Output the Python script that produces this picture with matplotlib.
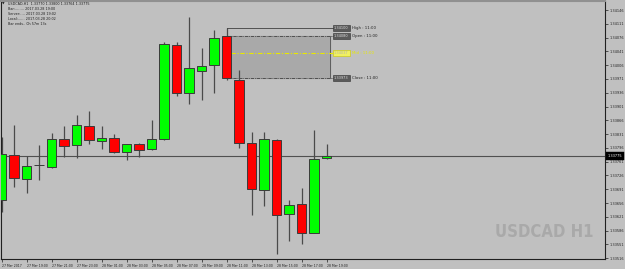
import numpy as np
import matplotlib
matplotlib.use('Agg')
import matplotlib.pyplot as plt
import matplotlib.transforms as mtransforms

# hourly bars, 27 Mar 17:00 .. 28 Mar 19:00
opens = [1.33663, 1.33778, 1.33717, 1.33752, 1.33747, 1.33818, 1.33803, 1.33851, 1.33813,
         1.33821, 1.33785, 1.33806, 1.33793, 1.33818, 1.34057, 1.33935, 1.33991, 1.34006,
         1.34080, 1.33968, 1.33808, 1.33689, 1.33816, 1.33628, 1.33653, 1.33580, 1.33770]
highs = [1.33823, 1.33854, 1.33775, 1.33803, 1.33834, 1.33851, 1.33879, 1.33890, 1.33851,
         1.33831, 1.33806, 1.33808, 1.33867, 1.34065, 1.34065, 1.34128, 1.34050, 1.34095,
         1.34100, 1.33994, 1.33836, 1.33836, 1.33818, 1.33663, 1.33694, 1.33841, 1.33806]
lows = [1.33633, 1.33696, 1.33681, 1.33714, 1.33745, 1.33773, 1.33770, 1.33806, 1.33793,
        1.33783, 1.33765, 1.33773, 1.33790, 1.33816, 1.33928, 1.33907, 1.33917, 1.33935,
        1.33968, 1.33796, 1.33625, 1.33648, 1.33526, 1.33559, 1.33552, 1.33580, 1.33768]
closes = [1.33780, 1.33719, 1.33750, 1.33753, 1.33818, 1.33801, 1.33854, 1.33816, 1.33821,
          1.33785, 1.33806, 1.33790, 1.33818, 1.34060, 1.33935, 1.33999, 1.34004, 1.34075,
          1.33973, 1.33808, 1.33691, 1.33818, 1.33625, 1.33651, 1.33580, 1.33768, 1.33775]

time_labels = ['27 Mar 2017', '27 Mar 19:00', '27 Mar 21:00', '27 Mar 23:00', '28 Mar 01:00',
               '28 Mar 03:00', '28 Mar 05:00', '28 Mar 07:00', '28 Mar 09:00', '28 Mar 11:00',
               '28 Mar 13:00', '28 Mar 15:00', '28 Mar 17:00', '28 Mar 19:00']
price_ticks = [1.34146, 1.34111, 1.34076, 1.34041, 1.34006, 1.33971, 1.33936, 1.33901,
               1.33866, 1.33831, 1.33796, 1.33761, 1.33726, 1.33691, 1.33656, 1.33621,
               1.33586, 1.33551, 1.33516]

current_price = 1.33775
zone_bar = 18  # the 11:00 bar
zone_levels = {'High': 1.34100, 'Open': 1.34080, 'Close': 1.33973}
zone_mid = (zone_levels['High'] + zone_levels['Close']) / 2

header = ['USDCAD,H1  1.33770 1.33800 1.33764 1.33775',
          'Bar:........ 2017.03.28 19:00',
          'Server:.... 2017.03.28 19:02',
          'Local:...... 2017.03.28 20:02',
          'Bar ends.. 0h 57m 13s']

BG = '#c0c0c0'
fig = plt.figure(figsize=(6.25, 2.69), dpi=100, facecolor=BG)
ax = fig.add_axes([1 / 625, 10 / 269, 604 / 625, 258 / 269], facecolor=BG)

o = np.array(opens); c = np.array(closes)
h = np.array(highs); l = np.array(lows)
x = np.arange(len(o))
up = c >= o

ax.vlines(x, l, h, color='#4a4a4a', lw=0.9, zorder=2)
bottoms = np.minimum(o, c)
heights = np.maximum(np.abs(c - o), 0.000004)
ax.bar(x[up], heights[up], bottom=bottoms[up], width=0.74, color='#00ff00',
       edgecolor='#3a3a3a', lw=0.7, zorder=3)
ax.bar(x[~up], heights[~up], bottom=bottoms[~up], width=0.74, color='#ff0000',
       edgecolor='#3a3a3a', lw=0.7, zorder=3)

# 11:00 zone box
x_end = 26.3
ax.fill_between([zone_bar, x_end], zone_levels['Close'], zone_levels['Open'],
                color='#a9a9a9', zorder=1)
ax.plot([zone_bar, x_end + 0.2], [zone_levels['High']] * 2, color='#404040', lw=0.6, zorder=1.5)
ax.plot([zone_bar, zone_bar], [zone_levels['Open'], zone_levels['High']], color='#404040', lw=0.6, zorder=1.5)
ax.plot([zone_bar, x_end + 0.2], [zone_levels['Open']] * 2, color='#404040', lw=0.6, ls=(0, (4, 1, 1, 1)), zorder=1.5)
ax.plot([zone_bar, x_end + 0.2], [zone_levels['Close']] * 2, color='#404040', lw=0.6, ls=(0, (4, 1, 1, 1)), zorder=1.5)
ax.plot([x_end, x_end], [zone_levels['Close'], zone_levels['Open']], color='#404040', lw=0.5, zorder=1.5)
ax.plot([zone_bar - 0.4, x_end + 0.2], [zone_mid] * 2, color='#e8e800', lw=0.8, ls=(0, (4, 1.5, 1, 1.5)), zorder=1.5)

for name in ['High', 'Open', 'Close']:
    v = zone_levels[name]
    ax.text(26.6, v, f'{v:.5f}', fontsize=2.5, color='#e0e0e0', va='center', ha='left', zorder=5,
            bbox=dict(boxstyle='square,pad=0.35', fc='#5a5a5a', ec='#303030', lw=0.4))
    ax.text(28.0, v, f'{name} : 11:00', fontsize=2.8, color='#202020', va='center', ha='left', zorder=5)
ax.text(26.6, zone_mid, f'{zone_mid:.5f}', fontsize=2.5, color='#b0b0b0', va='center', ha='left', zorder=5,
        bbox=dict(boxstyle='square,pad=0.35', fc='#f0f060', ec='#c8c800', lw=0.4))
ax.text(28.0, zone_mid, 'Mid : 11:00', fontsize=2.8, color='#e8e800', va='center', ha='left', zorder=5)

# current price line
ax.axhline(current_price, color='#505050', lw=0.8, zorder=1.8)
trans = mtransforms.blended_transform_factory(ax.transAxes, ax.transData)
ax.text(1.004, current_price, f'{current_price:.5f}', transform=trans, fontsize=2.5, color='white',
        ha='left', va='center', clip_on=False, zorder=6,
        bbox=dict(boxstyle='square,pad=0.5', fc='black', ec='black', lw=0.3))

ax.set_xlim(-0.04, 48.28)
ax.set_ylim(1.33514, 1.34169)

ax.yaxis.tick_right()
ax.set_yticks(price_ticks)
ax.set_yticklabels([f'{p:.5f}' for p in price_ticks])
ax.tick_params(axis='y', direction='out', length=2, width=0.5, labelsize=2.5, pad=1.5,
               colors='#202020')
ax.set_xticks(x[::2])
ax.set_xticklabels(time_labels, ha='left')
ax.tick_params(axis='x', direction='out', length=2.5, width=0.5, labelsize=2.25, pad=0.8,
               colors='#202020')

for side in ['left', 'bottom', 'right']:
    ax.spines[side].set_color('#202020')
    ax.spines[side].set_linewidth(0.8)
ax.spines['top'].set_color('#909090')
ax.spines['top'].set_linewidth(1.5)

# watermark
fig.text(544 / 625, (269 - 232) / 269, 'USDCAD H1', fontsize=12, fontweight='bold',
         fontstretch='condensed', color='#a9a9a9', ha='center', va='center',
         family='DejaVu Sans')

# header info
fig.text(2 / 625, 1 - 4 / 269, '\u25bc', fontsize=2.4, color='#202020', va='center', ha='left')
for i, line in enumerate(header):
    fig.text(8 / 625, 1 - (4 + 5 * i) / 269, line, fontsize=2.4, color='#202020',
             va='center', ha='left')

fig.savefig('out.png', dpi=100, facecolor=BG)
